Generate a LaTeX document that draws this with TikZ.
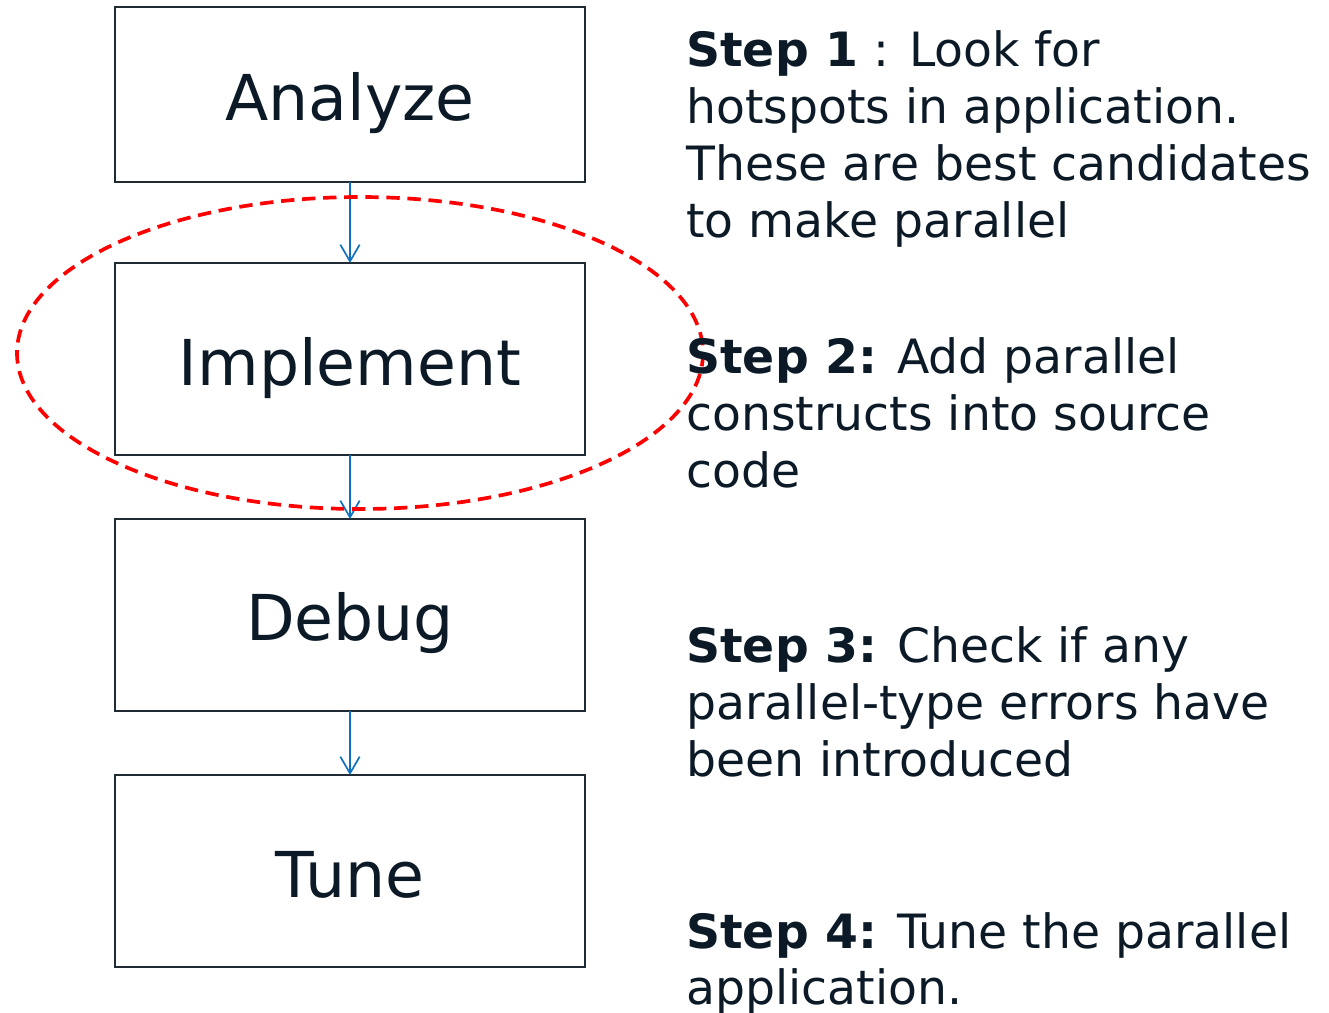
\documentclass[tikz,border=0pt]{standalone}
\usepackage{fontspec}
\setmainfont{DejaVu Sans}
\usetikzlibrary{arrows.meta}
\definecolor{inkdark}{HTML}{0B1A26}
\definecolor{boxline}{HTML}{1F2A33}
\definecolor{flowblue}{HTML}{0E70C0}
\definecolor{markred}{HTML}{FF0000}
\tikzset{
  stagebox/.style={draw=boxline, line width=1.3pt, fill=none},
  stagelabel/.style={anchor=base, inner sep=0pt, text=inkdark,
    font=\fontsize{36}{42}\selectfont},
  flowarrow/.style={draw=flowblue, line width=0.95pt,
    -{Straight Barb[length=9.5pt, width=11pt, line width=0.95pt]}},
  noteline/.style={anchor=base west, inner sep=0pt, text=inkdark,
    font=\fontsize{26.9}{32}\selectfont},
  focusring/.style={draw=markred, line width=2.1pt, dash pattern=on 7.6pt off 4.4pt}
}
\begin{document}
\begin{tikzpicture}[x=0.02cm, y=-0.02cm]
  \useasboundingbox (0,0) rectangle (1329,1012);

  % stage boxes
  \draw[stagebox] (115,7)   rectangle (585,182);
  \draw[stagebox] (115,263) rectangle (585,455);
  \draw[stagebox] (115,519) rectangle (585,711);
  \draw[stagebox] (115,775) rectangle (585,967);

  % anchors on the box edges for the connectors
  \coordinate (b1s) at (350,182);
  \coordinate (b2n) at (350,263);
  \coordinate (b2s) at (350,455);
  \coordinate (b3n) at (350,519);
  \coordinate (b3s) at (350,711);
  \coordinate (b4n) at (350,775);

  % stage labels
  \node[stagelabel] (analyze)   at (350,120) {Analyze};
  \node[stagelabel] (implement) at (350,385) {Implement};
  \node[stagelabel] (debug)     at (350,640) {Debug};
  \node[stagelabel] (tune)      at (350,897) {Tune};

  % flow connectors
  \draw[flowarrow] (b1s) -- (b2n);
  \draw[flowarrow] (b2s) -- (b3n);
  \draw[flowarrow] (b3s) -- (b4n);

  % dashed ring around the implementation stage
  \draw[focusring] (360,353) ellipse [x radius=343, y radius=156];

  % step descriptions
  \node[noteline] (s1a) at (686,66)  {\textbf{Step 1} : Look for};
  \node[noteline] (s1b) at (686,123) {hotspots in application.};
  \node[noteline] (s1c) at (686,180) {These are best candidates};
  \node[noteline] (s1d) at (686,237) {to make parallel};

  \node[noteline] (s2a) at (686,373) {\textbf{Step 2:} Add parallel};
  \node[noteline] (s2b) at (686,430) {constructs into source};
  \node[noteline] (s2c) at (686,487) {code};

  \node[noteline] (s3a) at (686,662) {\textbf{Step 3:} Check if any};
  \node[noteline] (s3b) at (686,719) {parallel-type errors have};
  \node[noteline] (s3c) at (686,776) {been introduced};

  \node[noteline] (s4a) at (686,948)  {\textbf{Step 4:} Tune the parallel};
  \node[noteline] (s4b) at (686,1004) {application.};
\end{tikzpicture}
\end{document}
